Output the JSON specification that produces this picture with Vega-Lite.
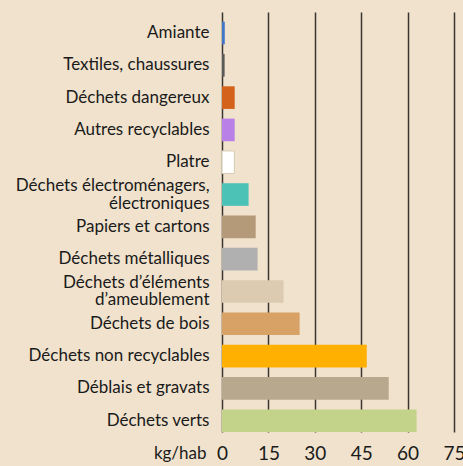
{
  "$schema": "https://vega.github.io/schema/vega-lite/v6.json",
  "width": 232,
  "height": 420,
  "autosize": {"type": "none"},
  "padding": {"left": 222, "top": 12, "right": 9, "bottom": 34},
  "background": "#f0e2cd",
  "config": {"view": {"stroke": null}, "font": "Lato"},
  "data": {"values": [
    {"cat": "Amiante", "v": 0.9},
    {"cat": "Textiles, chaussures", "v": 0.85},
    {"cat": "Déchets dangereux", "v": 4.1},
    {"cat": "Autres recyclables", "v": 4.1},
    {"cat": "Platre", "v": 4.0},
    {"cat": "Déchets électroménagers,|électroniques", "v": 8.6},
    {"cat": "Papiers et cartons", "v": 10.9},
    {"cat": "Déchets métalliques", "v": 11.5},
    {"cat": "Déchets d’éléments|d’ameublement", "v": 19.9},
    {"cat": "Déchets de bois", "v": 25.1},
    {"cat": "Déchets non recyclables", "v": 46.8},
    {"cat": "Déblais et gravats", "v": 53.9},
    {"cat": "Déchets verts", "v": 62.9}
  ]},
  "mark": {"type": "bar", "strokeWidth": 1},
  "encoding": {
    "y": {
      "field": "cat", "type": "nominal", "sort": null,
      "scale": {"paddingInner": 0.3, "paddingOuter": 0.15, "align": 1},
      "axis": {
        "title": null, "ticks": false, "domain": false, "labelPadding": 13,
        "labelFontSize": 17, "labelColor": "#1a1a1a", "labelLimit": 260,
        "labelExpr": "split(datum.label, '|')", "labelLineHeight": 17.5,
        "labelOffset": {"condition": {"test": "indexof(datum.value, '|') >= 0", "value": -8.5}, "value": 0}
      }
    },
    "x": {
      "field": "v", "type": "quantitative",
      "scale": {"domain": [0, 75], "nice": false},
      "axis": {
        "values": [0, 15, 30, 45, 60, 75], "grid": true, "gridColor": "#3a3530", "gridWidth": 1.5,
        "gridOpacity": 1, "ticks": false, "domain": false, "labelPadding": 12,
        "labelFontSize": 19, "labelColor": "#1a1a1a", "labelFlush": false,
        "title": "kg/hab", "titleAngle": 0, "titleX": -16, "titleY": 21, "titleAlign": "right",
        "titleBaseline": "middle", "titleFontSize": 17, "titleFontWeight": "normal", "titleColor": "#1a1a1a"
      }
    },
    "color": {
      "field": "cat", "type": "nominal", "legend": null,
      "scale": {
        "domain": ["Amiante", "Textiles, chaussures", "Déchets dangereux", "Autres recyclables", "Platre", "Déchets électroménagers,|électroniques", "Papiers et cartons", "Déchets métalliques", "Déchets d’éléments|d’ameublement", "Déchets de bois", "Déchets non recyclables", "Déblais et gravats", "Déchets verts"],
        "range": ["#4275c8", "#5a5a5a", "#d5621a", "#b980e8", "#ffffff", "#4cc1b5", "#b59a7a", "#b0b0b0", "#dccbb0", "#d8a266", "#ffb000", "#b8a98e", "#c3d38a"]
      }
    },
    "stroke": {"condition": {"test": "datum.cat === 'Platre'", "value": "#d6ccb4"}, "value": null}
  }
}
